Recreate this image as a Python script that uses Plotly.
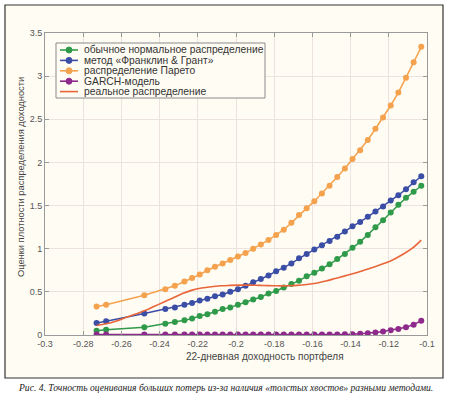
import plotly.graph_objects as go

x_vals = [-0.273, -0.268, -0.248, -0.237, -0.232, -0.227, -0.223, -0.219, -0.215, -0.211,
          -0.207, -0.203, -0.199, -0.195, -0.191, -0.187, -0.183, -0.179, -0.175, -0.171,
          -0.167, -0.163, -0.159, -0.155, -0.151, -0.147, -0.143, -0.139, -0.135, -0.131,
          -0.127, -0.123, -0.119, -0.115, -0.111, -0.107, -0.103]

normal = [0.05, 0.06, 0.09, 0.13, 0.15, 0.17, 0.19, 0.22, 0.24, 0.27,
          0.30, 0.32, 0.35, 0.38, 0.41, 0.44, 0.48, 0.51, 0.55, 0.59,
          0.63, 0.68, 0.72, 0.77, 0.82, 0.88, 0.94, 1.01, 1.08, 1.16,
          1.25, 1.33, 1.42, 1.51, 1.59, 1.66, 1.73]

franklin = [0.14, 0.16, 0.25, 0.30, 0.32, 0.35, 0.37, 0.40, 0.42, 0.45,
            0.47, 0.50, 0.53, 0.57, 0.61, 0.65, 0.69, 0.74, 0.78, 0.83,
            0.89, 0.94, 0.99, 1.04, 1.09, 1.14, 1.20, 1.26, 1.31, 1.37,
            1.43, 1.49, 1.56, 1.62, 1.69, 1.77, 1.84]

pareto = [0.33, 0.35, 0.46, 0.53, 0.57, 0.62, 0.66, 0.70, 0.75, 0.79,
          0.83, 0.87, 0.91, 0.95, 1.00, 1.05, 1.10, 1.16, 1.22, 1.30,
          1.39, 1.47, 1.55, 1.64, 1.73, 1.83, 1.93, 2.04, 2.14, 2.26,
          2.39, 2.52, 2.66, 2.81, 2.98, 3.16, 3.34]

garch = [0.005, 0.005, 0.005, 0.005, 0.005, 0.005, 0.005, 0.005, 0.005, 0.005,
         0.005, 0.005, 0.005, 0.005, 0.005, 0.005, 0.005, 0.005, 0.005, 0.005,
         0.005, 0.005, 0.005, 0.005, 0.005, 0.006, 0.008, 0.01, 0.015, 0.02,
         0.03, 0.04, 0.055, 0.07, 0.09, 0.12, 0.165]

real_x = [-0.273, -0.268, -0.263, -0.258, -0.253, -0.248, -0.243, -0.238, -0.233, -0.228,
          -0.223, -0.218, -0.213, -0.208, -0.203, -0.198, -0.193, -0.188, -0.183, -0.178,
          -0.173, -0.168, -0.163, -0.158, -0.153, -0.148, -0.143, -0.138, -0.133, -0.128,
          -0.123, -0.118, -0.113, -0.108, -0.103]
real_y = [0.11, 0.13, 0.16, 0.20, 0.24, 0.28, 0.33, 0.38, 0.43, 0.48,
          0.52, 0.545, 0.56, 0.57, 0.575, 0.578, 0.578, 0.575, 0.572, 0.57,
          0.57, 0.575, 0.585, 0.60, 0.625, 0.655, 0.685, 0.715, 0.75, 0.785,
          0.825, 0.87, 0.93, 1.00, 1.10]

x_ticks = [-0.3, -0.28, -0.26, -0.24, -0.22, -0.2, -0.18, -0.16, -0.14, -0.12, -0.1]
x_tick_labels = ["-0.3", "-0.28", "-0.26", "-0.24", "-0.22", "-0.2", "-0.18", "-0.16", "-0.14", "-0.12", "-0.1"]
y_ticks = [0, 0.5, 1, 1.5, 2, 2.5, 3, 3.5]
y_tick_labels = ["0", "0.5", "1", "1.5", "2", "2.5", "3", "3.5"]

names = ["обычное нормальное распределение", "метод «Франклин & Грант»",
         "распределение Парето", "GARCH-модель", "реальное распределение"]
colors = ["#2f9a4a", "#3b4ea6", "#f4a24e", "#8e2a8c", "#e8663a"]
has_marker = [True, True, True, True, False]

FONT = "Arial, 'Liberation Sans', sans-serif"
BG = "#fffcf3"

fig = go.Figure()
for yv, nm, c in zip([normal, franklin, pareto, garch], names[:4], colors[:4]):
    fig.add_trace(go.Scatter(x=x_vals, y=yv, name=nm, mode="lines+markers",
                             line=dict(color=c, width=1.5),
                             marker=dict(color=c, size=6, symbol="circle")))
fig.add_trace(go.Scatter(x=real_x, y=real_y, name=names[4], mode="lines",
                         line=dict(color=colors[4], width=1.6, shape="spline")))

L, R, T, B = 45, 22, 33, 59
pw, ph = 449 - L - R, 394 - T - B

def px(xp):
    return (xp - L) / pw

def py(yp):
    return (394 - B - yp) / ph

# outer frame
fig.add_shape(type="rect", xref="paper", yref="paper",
              x0=px(5), x1=px(443), y0=py(378), y1=py(5),
              line=dict(color="#333333", width=1.2), fillcolor=BG, layer="below")

# compact legend (box, samples, labels)
fig.add_shape(type="rect", xref="paper", yref="paper",
              x0=px(56), x1=px(265), y0=py(98), y1=py(43),
              line=dict(color="#8a8a8a", width=1), fillcolor=BG, layer="above")
row_h = 10.4
for i, (nm, c, mk) in enumerate(zip(names, colors, has_marker)):
    yc = 50 + i * row_h
    fig.add_shape(type="line", xref="paper", yref="paper",
                  x0=px(60), x1=px(78), y0=py(yc), y1=py(yc),
                  line=dict(color=c, width=1.6), layer="above")
    if mk:
        fig.add_shape(type="circle", xref="paper", yref="paper",
                      x0=px(66), x1=px(72), y0=py(yc + 3), y1=py(yc - 3),
                      line=dict(color=c, width=1), fillcolor=c, layer="above")
    fig.add_annotation(text=nm, xref="paper", yref="paper", x=px(82), y=py(yc),
                       xanchor="left", yanchor="middle", showarrow=False,
                       font=dict(family=FONT, size=10.3, color="#333333"))

fig.add_annotation(text="Оценки плотности распределения доходности", textangle=-90,
                   xref="paper", yref="paper", x=px(21), y=py(177),
                   xanchor="center", yanchor="middle", showarrow=False,
                   font=dict(family=FONT, size=9.3, color="#444444"))
fig.add_annotation(text="22-дневная доходность портфеля",
                   xref="paper", yref="paper", x=px(265), y=py(356),
                   xanchor="center", yanchor="middle", showarrow=False,
                   font=dict(family=FONT, size=10, color="#444444"))
fig.add_annotation(text="<i>Рис. 4. Точность оценивания больших потерь из-за наличия «толстых хвостов» разными методами.</i>",
                   xref="paper", yref="paper", x=px(225), y=py(388),
                   xanchor="center", yanchor="middle", showarrow=False,
                   font=dict(family="'Liberation Serif', 'DejaVu Serif', serif", size=9.6, color="#222222"))

axis_common = dict(showline=True, linecolor="#9a9a9a", linewidth=1, mirror="allticks",
                   ticks="inside", ticklen=4, tickcolor="#9a9a9a",
                   showgrid=True, gridcolor="#ece2df", gridwidth=1, zeroline=False,
                   tickfont=dict(family=FONT, size=9, color="#555555"))

fig.update_layout(
    width=449, height=394, autosize=False,
    margin=dict(l=L, r=R, t=T, b=B),
    paper_bgcolor="white", plot_bgcolor=BG,
    showlegend=False,
    xaxis=dict(range=[-0.3, -0.1], tickvals=x_ticks, ticktext=x_tick_labels, **axis_common),
    yaxis=dict(range=[0, 3.5], tickvals=y_ticks, ticktext=y_tick_labels, **axis_common),
)

fig.write_html("out.html", config={"displayModeBar": False},
               post_script="document.body.style.margin='0';")
